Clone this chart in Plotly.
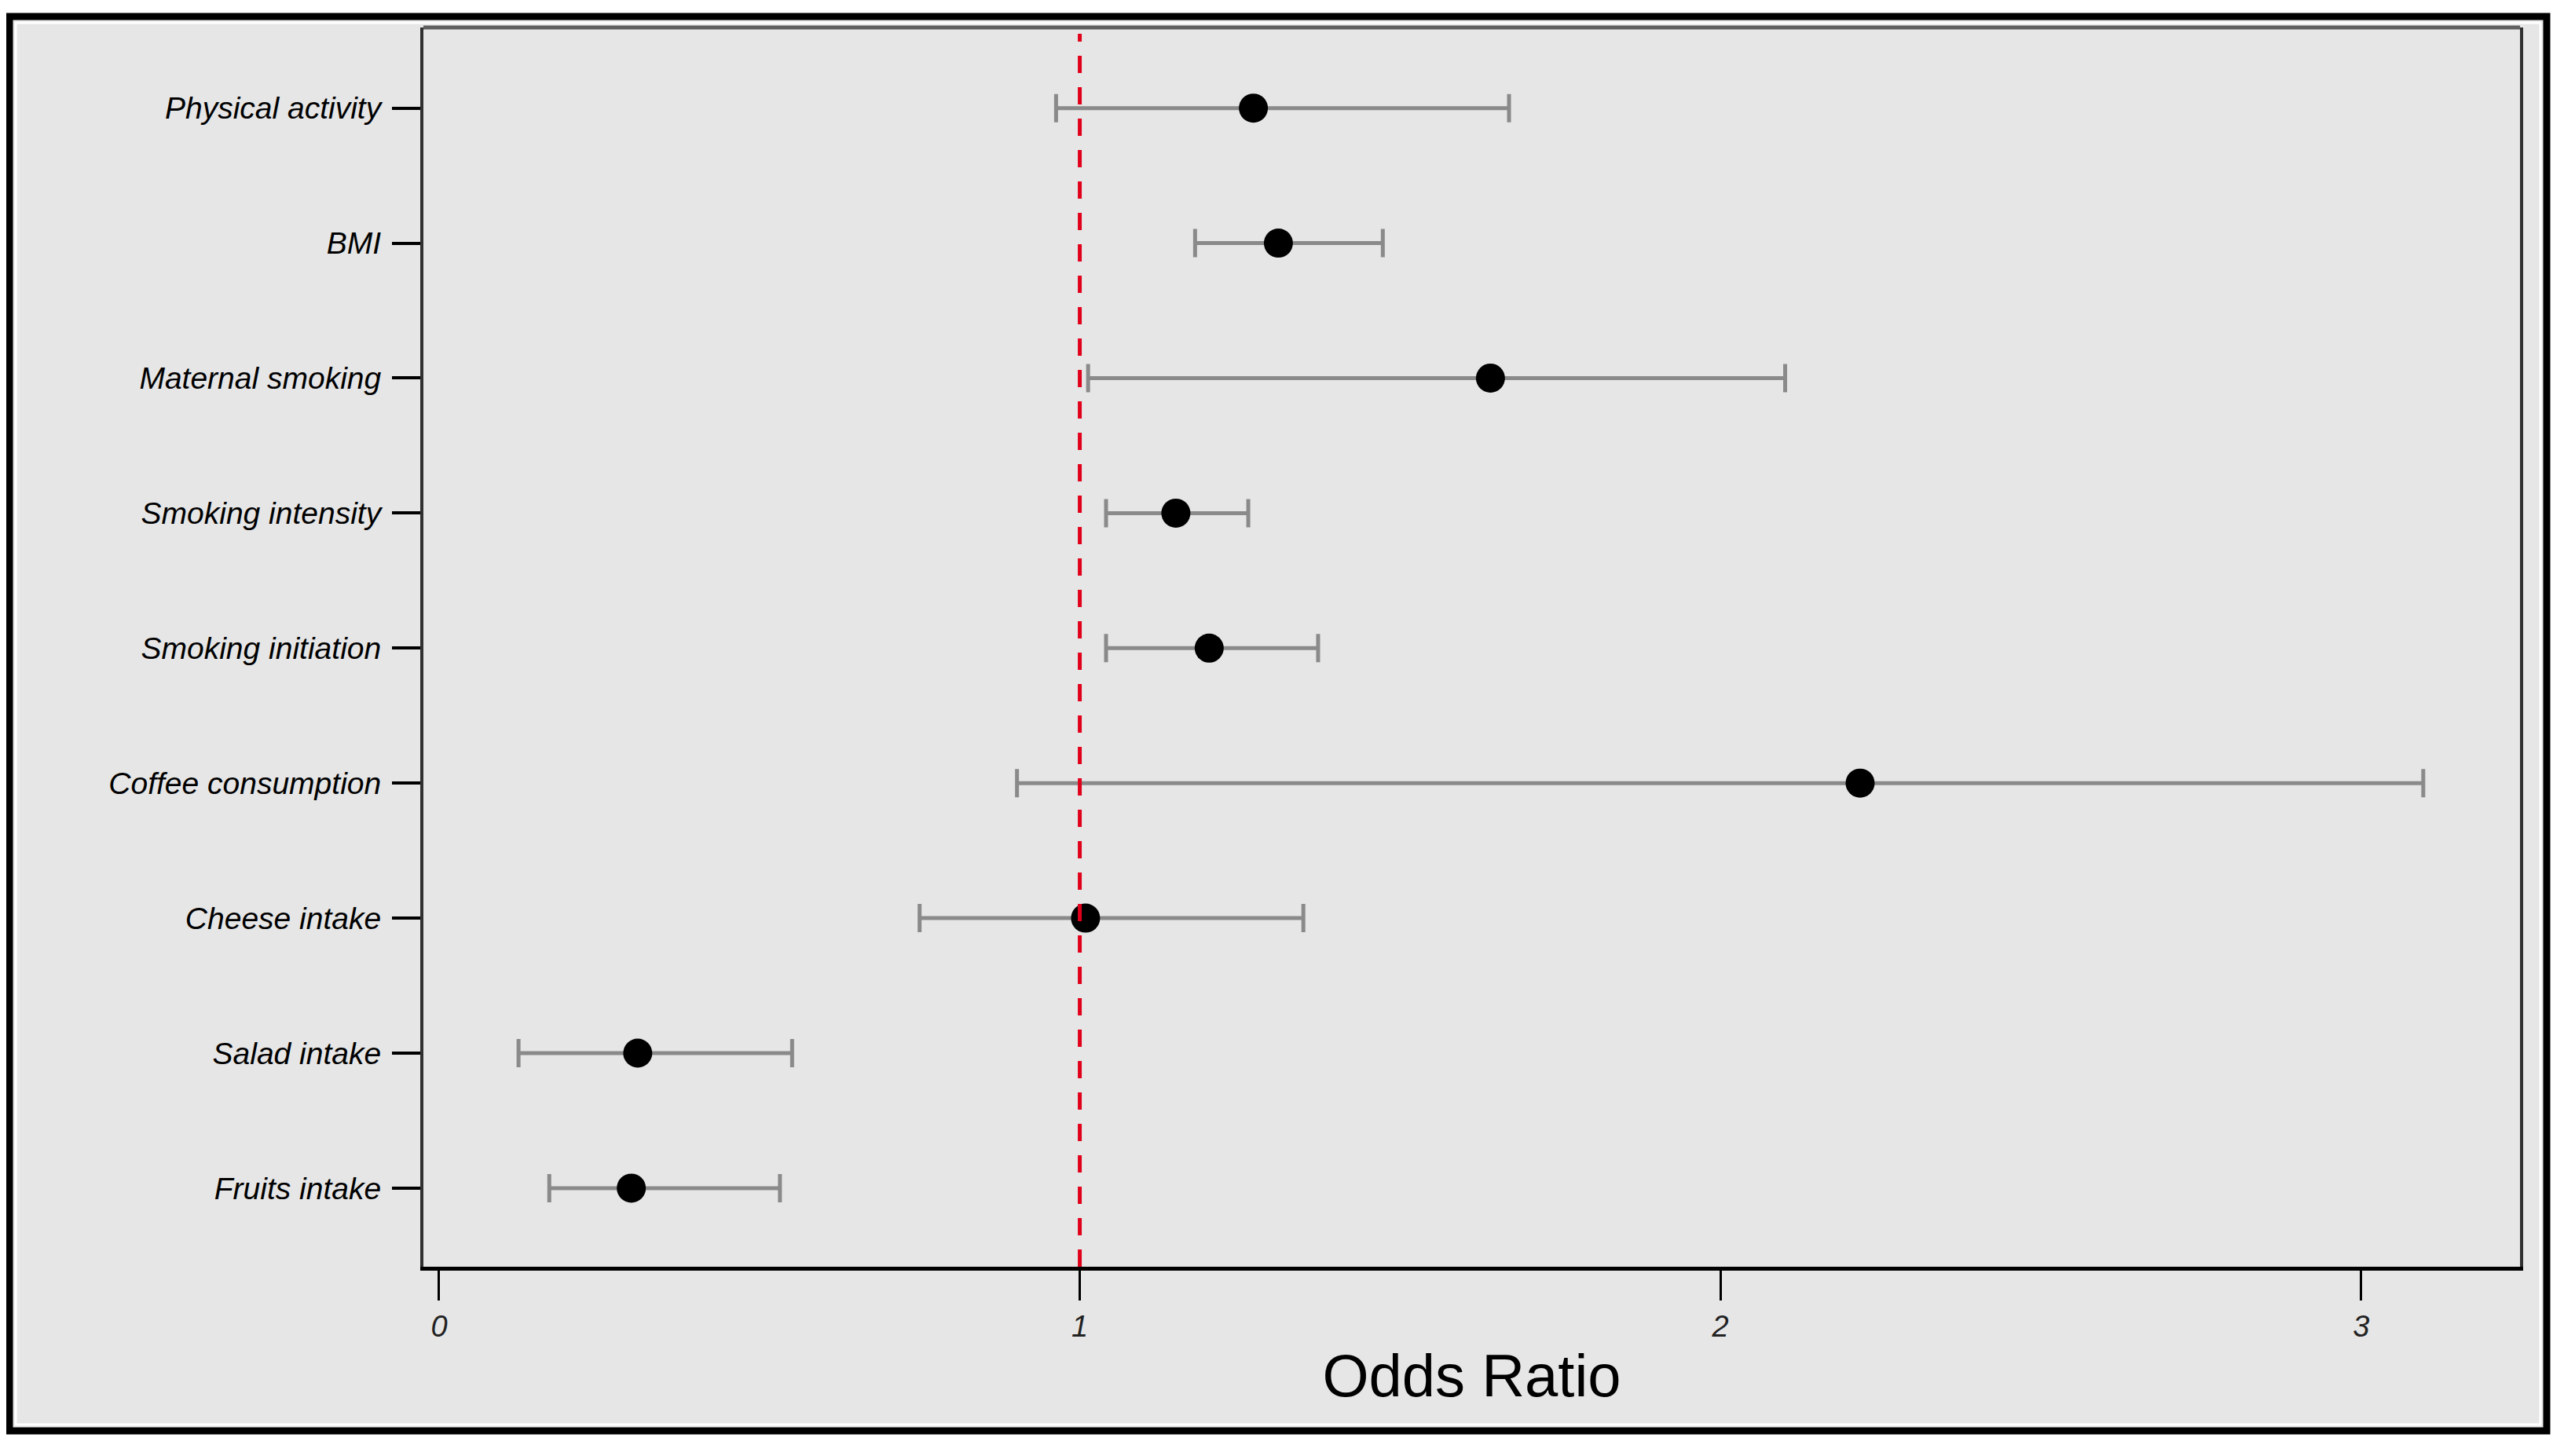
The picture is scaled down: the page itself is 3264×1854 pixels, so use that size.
import plotly.graph_objects as go

# ---- data (top to bottom as in the chart) ----
factors = ["Physical activity", "BMI", "Maternal smoking", "Smoking intensity",
           "Smoking initiation", "Coffee consumption", "Cheese intake",
           "Salad intake", "Fruits intake"]
odds_ratio = [1.271, 1.310, 1.641, 1.150, 1.202, 2.218, 1.009, 0.310, 0.300]
ci_low = [0.963, 1.180, 1.013, 1.041, 1.041, 0.902, 0.750, 0.124, 0.172]
ci_high = [1.670, 1.473, 2.101, 1.263, 1.372, 3.097, 1.349, 0.551, 0.532]
x_ticks = [0, 1, 2, 3]
ref_value = 1

n = len(factors)
ypos = [n - i for i in range(n)]
err_plus = [h - o for h, o in zip(ci_high, odds_ratio)]
err_minus = [o - l for o, l in zip(odds_ratio, ci_low)]

W, H = 3264, 1854
OFF = 8  # page body margin compensation
left_px, right_px, top_px, bottom_px = 539 - OFF, 3208 - OFF, 35 - OFF, 1613 - OFF
ML, MR, MT, MB = left_px, W - right_px, top_px, H - bottom_px
pw = right_px - left_px
ph = bottom_px - top_px

def px_x(p):
    return (p - OFF - left_px) / pw

def px_y(p):
    return (bottom_px - (p - OFF)) / ph

fig = go.Figure()

fig.add_trace(go.Scatter(
    x=odds_ratio, y=ypos, mode="markers",
    marker=dict(color="black", size=37, symbol="circle"),
    error_x=dict(type="data", symmetric=False, array=err_plus, arrayminus=err_minus,
                 color="#8a8a8a", thickness=5, width=18),
    showlegend=False, hoverinfo="x+y",
))

# reference line at OR = 1
fig.add_shape(type="line", xref="x", yref="paper", x0=ref_value, x1=ref_value, y0=0, y1=0.995,
              line=dict(color="#e0001b", width=5, dash="22px,18px"), layer="above")

# outer frame with grey fill
fig.add_shape(type="rect", xref="paper", yref="paper",
              x0=px_x(12), x1=px_x(3242), y0=px_y(1822), y1=px_y(21),
              line=dict(color="black", width=9), fillcolor="#e6e6e6", layer="below")
fig.add_shape(type="rect", xref="paper", yref="paper",
              x0=px_x(20), x1=px_x(3234), y0=px_y(1814), y1=px_y(29),
              line=dict(color="white", width=3), fillcolor="rgba(0,0,0,0)", layer="below")
# top line of plot box (grey)
fig.add_shape(type="line", xref="paper", yref="paper", x0=0, x1=1, y0=1, y1=1,
              line=dict(color="#606060", width=5), layer="above")

font_family = "Liberation Sans, Arial, Helvetica, sans-serif"

fig.update_layout(
    width=W, height=H,
    margin=dict(l=ML, r=MR, t=MT, b=MB, pad=0),
    paper_bgcolor="white",
    plot_bgcolor="#e6e6e6",
    font=dict(family=font_family, color="black"),
    xaxis=dict(
        range=[-0.0245, 3.248], tickvals=x_ticks, ticktext=[str(t) for t in x_ticks],
        showgrid=False, zeroline=False,
        showline=True, linecolor="black", linewidth=5, mirror=False,
        ticks="outside", ticklen=38, tickwidth=3, tickcolor="black",
        tickfont=dict(size=38, style="italic", family=font_family, color="#222"),
        title=dict(text="Odds Ratio", font=dict(size=76, family=font_family, color="black"),
                   standoff=18),
    ),
    yaxis=dict(
        range=[0.418, 9.597], tickvals=ypos, ticktext=factors,
        showgrid=False, zeroline=False,
        showline=True, linecolor="#303030", linewidth=4, mirror=True,
        ticks="outside", ticklen=36, tickwidth=4, tickcolor="black",
        tickfont=dict(size=39, style="italic", family=font_family, color="black"),
        ticklabelstandoff=6,
    ),
)

fig.write_html("out.html")
